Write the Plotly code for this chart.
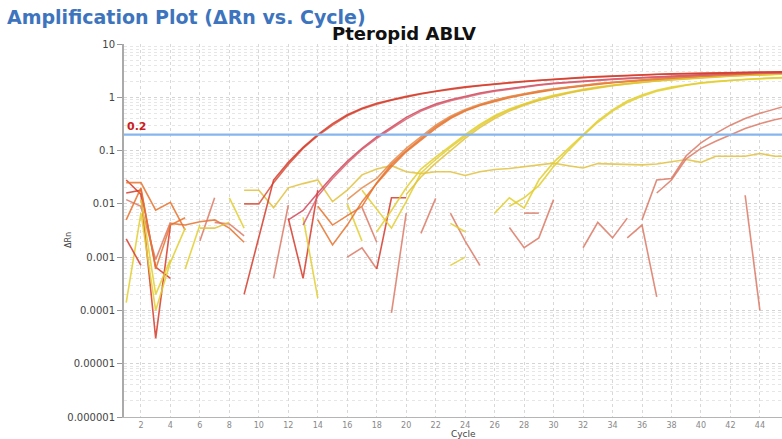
import plotly.graph_objects as go

# ---------------- data ----------------
# main amplification curves (cycle, dRn)
a1_cyc = list(range(9, 47))
a1_val = [0.0002, 0.0024, 0.028, 0.06, 0.115, 0.2, 0.32, 0.47, 0.62, 0.77, 0.91, 1.04, 1.18, 1.32,
          1.45, 1.57, 1.69, 1.8, 1.9, 2.0, 2.1, 2.2, 2.28, 2.36, 2.44, 2.52, 2.58, 2.64, 2.7, 2.75,
          2.8, 2.84, 2.88, 2.92, 2.95, 2.97, 2.99, 3.0]
a2_cyc = list(range(9, 47))
a2_val = [0.01, 0.01, 0.025, 0.055, 0.11, 0.19, 0.3, 0.45, 0.6, 0.74, 0.88, 1.01, 1.15, 1.28,
          1.41, 1.53, 1.65, 1.76, 1.86, 1.96, 2.06, 2.16, 2.25, 2.33, 2.41, 2.49, 2.56, 2.62, 2.68, 2.73,
          2.78, 2.82, 2.86, 2.9, 2.93, 2.95, 2.97, 2.98]
b1_cyc = list(range(12, 47))
b1_val = [0.005, 0.0075, 0.016, 0.033, 0.063, 0.11, 0.18, 0.28, 0.42, 0.58, 0.75, 0.9, 1.05, 1.2,
          1.34, 1.47, 1.6, 1.72, 1.83, 1.93, 2.02, 2.11, 2.2, 2.28, 2.36, 2.44, 2.51, 2.58, 2.65, 2.72,
          2.78, 2.83, 2.88, 2.92, 2.95]
b2_cyc = list(range(13, 47))
b2_val = [0.004, 0.014, 0.03, 0.058, 0.105, 0.17, 0.26, 0.39, 0.55, 0.71, 0.86, 1.01, 1.16,
          1.3, 1.43, 1.56, 1.68, 1.79, 1.89, 1.98, 2.07, 2.16, 2.24, 2.32, 2.4, 2.47, 2.54, 2.61, 2.68,
          2.74, 2.8, 2.85, 2.89, 2.92]
c1_cyc = list(range(14, 47))
c1_val = [0.009, 0.004, 0.006, 0.009, 0.025, 0.055, 0.1, 0.17, 0.28, 0.42, 0.57, 0.72, 0.87, 1.01,
          1.15, 1.29, 1.42, 1.55, 1.67, 1.79, 1.9, 2.01, 2.12, 2.22, 2.32, 2.42, 2.52, 2.61, 2.7, 2.78,
          2.85, 2.91, 2.95]
c2_cyc = list(range(14, 47))
c2_val = [0.005, 0.0017, 0.004, 0.011, 0.024, 0.05, 0.095, 0.16, 0.26, 0.4, 0.55, 0.7, 0.84, 0.98,
          1.12, 1.26, 1.39, 1.52, 1.64, 1.76, 1.87, 1.98, 2.09, 2.19, 2.29, 2.39, 2.49, 2.58, 2.67, 2.75,
          2.82, 2.88, 2.93]
c3_cyc = list(range(16, 47))
c3_val = [0.012, 0.02, 0.03, 0.06, 0.11, 0.18, 0.3, 0.44, 0.59, 0.74, 0.89, 1.03, 1.17, 1.31,
          1.44, 1.57, 1.69, 1.81, 1.92, 2.03, 2.14, 2.24, 2.34, 2.44, 2.54, 2.63, 2.72, 2.8, 2.87, 2.93,
          2.97]
d1_cyc = list(range(18, 47))
d1_val = [0.003, 0.0075, 0.02, 0.045, 0.075, 0.125, 0.2, 0.31, 0.45, 0.6, 0.76, 0.93, 1.09, 1.25,
          1.41, 1.56, 1.7, 1.83, 1.95, 2.06, 2.17, 2.27, 2.36, 2.45, 2.53, 2.61, 2.68, 2.74, 2.79]
d2_cyc = list(range(17, 47))
d2_val = [0.018, 0.008, 0.0035, 0.011, 0.038, 0.068, 0.115, 0.185, 0.29, 0.43, 0.58, 0.74, 0.9,
          1.06, 1.22, 1.38, 1.53, 1.67, 1.8, 1.93, 2.04, 2.15, 2.25, 2.34, 2.43, 2.51, 2.59, 2.66, 2.72, 2.77]
d3_cyc = list(range(20, 47))
d3_val = [0.015, 0.032, 0.058, 0.1, 0.17, 0.27, 0.4, 0.55, 0.71, 0.87, 1.03, 1.19, 1.35, 1.5,
          1.65, 1.78, 1.91, 2.02, 2.12, 2.22, 2.31, 2.4, 2.48, 2.56, 2.63, 2.69, 2.75]
e1_cyc = list(range(26, 47))
e1_val = [0.0067, 0.013, 0.0083, 0.028, 0.06, 0.11, 0.2, 0.36, 0.58, 0.85, 1.1, 1.35, 1.55, 1.72,
          1.88, 2.0, 2.1, 2.18, 2.25, 2.32, 2.38]
e2_cyc = list(range(27, 47))
e2_val = [0.009, 0.013, 0.022, 0.05, 0.1, 0.19, 0.34, 0.55, 0.8, 1.05, 1.3, 1.5, 1.68, 1.84,
          1.96, 2.07, 2.15, 2.22, 2.29, 2.35]
f_cyc = list(range(9, 47))
f_val = [0.018, 0.018, 0.0085, 0.02, 0.024, 0.028, 0.011, 0.018, 0.035, 0.045, 0.052, 0.04, 0.037,
         0.04, 0.04, 0.034, 0.04, 0.044, 0.046, 0.05, 0.055, 0.058, 0.052, 0.047, 0.057, 0.056, 0.055,
         0.054, 0.056, 0.062, 0.068, 0.06, 0.078, 0.078, 0.078, 0.088, 0.078, 0.078]
g1_cyc = list(range(36, 47))
g1_val = [0.005, 0.028, 0.03, 0.08, 0.14, 0.21, 0.3, 0.4, 0.5, 0.6, 0.72]
g2_cyc = list(range(37, 47))
g2_val = [0.016, 0.028, 0.07, 0.11, 0.15, 0.2, 0.26, 0.32, 0.38, 0.43]

# noisy baseline fragments
n01_cyc, n01_val = [1, 2, 3, 4], [0.028, 0.015, 0.00003, 0.004]
n02_cyc, n02_val = [1, 2, 3, 4, 5], [0.025, 0.025, 0.0076, 0.0107, 0.0032]
n03_cyc, n03_val = [1, 2, 3, 4], [0.016, 0.018, 0.00065, 0.0004]
n04_cyc, n04_val = [1, 2, 3, 4, 5], [0.00014, 0.0067, 0.0001, 0.0008, 0.0035]
n05_cyc, n05_val = [1, 2, 3, 4], [0.012, 0.009, 0.0009, 0.0045]
n06_cyc, n06_val = [1, 2], [0.0022, 0.0007]
n07_cyc, n07_val = [1, 2, 3, 4, 5], [0.005, 0.02, 0.0006, 0.004, 0.0055]
n08_cyc, n08_val = [2, 3, 4], [0.012, 0.0002, 0.0009]
n09_cyc, n09_val = [4, 5, 6, 7, 8, 9], [0.0043, 0.004, 0.0046, 0.005, 0.0035, 0.0019]
n10_cyc, n10_val = [5, 6], [0.0006, 0.004]
n11_cyc, n11_val = [6, 7], [0.002, 0.013]
n12_cyc, n12_val = [7, 8, 9], [0.0045, 0.0042, 0.0025]
n13_cyc, n13_val = [8, 9], [0.013, 0.0035]
n14_cyc, n14_val = [6, 7, 8], [0.0035, 0.0035, 0.0045]
n15_cyc, n15_val = [11, 12], [0.0004, 0.0095]
n16_cyc, n16_val = [12, 13, 14], [0.0053, 0.0004, 0.018]
n17_cyc, n17_val = [13, 14], [0.0056, 0.00017]
n18_cyc, n18_val = [16, 17, 18], [0.001, 0.0015, 0.0006]
n19_cyc, n19_val = [18, 19, 20], [0.0006, 0.013, 0.013]
n20_cyc, n20_val = [19, 20], [0.00009, 0.0067]
n21_cyc, n21_val = [17, 18], [0.0086, 0.0019]
n22_cyc, n22_val = [16, 17], [0.01, 0.002]
n23_cyc, n23_val = [21, 22], [0.0028, 0.0127]
n24_cyc, n24_val = [23, 24, 25], [0.0067, 0.002, 0.0007]
n25_cyc, n25_val = [23, 24], [0.0043, 0.003]
n26_cyc, n26_val = [23, 24], [0.0007, 0.001]
n27_cyc, n27_val = [27, 28, 29, 30], [0.0036, 0.0015, 0.0023, 0.012]
n28_cyc, n28_val = [28, 29], [0.0067, 0.0067]
n29_cyc, n29_val = [32, 33, 34, 35], [0.0015, 0.0045, 0.0023, 0.0054]
n30_cyc, n30_val = [35, 36, 37], [0.0023, 0.004, 0.00018]
n31_cyc, n31_val = [43, 44], [0.0145, 0.0001]

x_ticks = list(range(2, 45, 2))
y_ticks = [1e-6, 1e-5, 1e-4, 1e-3, 1e-2, 1e-1, 1, 10]
y_tick_text = ["0.000001", "0.00001", "0.0001", "0.001", "0.01", "0.1", "1", "10"]
threshold = 0.2

# ---------------- colours ----------------
RED = "#d63b2b"
CRIMSON = "#d2475a"
ORANGE = "#e8732c"
YELLOW = "#e3cf2e"
GOLD = "#e2c23c"
SALMON = "#dc7a66"

series = [
    (n01_cyc, n01_val, RED), (n02_cyc, n02_val, ORANGE), (n03_cyc, n03_val, RED),
    (n04_cyc, n04_val, YELLOW), (n05_cyc, n05_val, SALMON), (n06_cyc, n06_val, RED),
    (n07_cyc, n07_val, ORANGE), (n08_cyc, n08_val, YELLOW), (n09_cyc, n09_val, ORANGE),
    (n10_cyc, n10_val, YELLOW), (n11_cyc, n11_val, SALMON), (n12_cyc, n12_val, SALMON),
    (n13_cyc, n13_val, YELLOW), (n14_cyc, n14_val, GOLD), (n15_cyc, n15_val, SALMON),
    (n16_cyc, n16_val, RED), (n17_cyc, n17_val, YELLOW), (n18_cyc, n18_val, SALMON),
    (n19_cyc, n19_val, RED), (n20_cyc, n20_val, SALMON), (n21_cyc, n21_val, SALMON),
    (n22_cyc, n22_val, YELLOW), (n23_cyc, n23_val, SALMON), (n24_cyc, n24_val, SALMON),
    (n25_cyc, n25_val, YELLOW), (n26_cyc, n26_val, YELLOW), (n27_cyc, n27_val, SALMON),
    (n28_cyc, n28_val, SALMON), (n29_cyc, n29_val, SALMON), (n30_cyc, n30_val, SALMON),
    (n31_cyc, n31_val, SALMON),
    (f_cyc, f_val, GOLD),
    (g1_cyc, g1_val, SALMON), (g2_cyc, g2_val, SALMON),
    (e1_cyc, e1_val, YELLOW), (e2_cyc, e2_val, YELLOW),
    (d1_cyc, d1_val, YELLOW), (d2_cyc, d2_val, YELLOW), (d3_cyc, d3_val, GOLD),
    (c1_cyc, c1_val, ORANGE), (c2_cyc, c2_val, ORANGE), (c3_cyc, c3_val, "#e58a4a"),
    (b1_cyc, b1_val, CRIMSON), (b2_cyc, b2_val, "#d86070"),
    (a2_cyc, a2_val, "#d9503a"), (a1_cyc, a1_val, RED),
]

fig = go.Figure()
for cyc, val, col in series:
    fig.add_trace(go.Scatter(x=cyc, y=val, mode="lines",
                             line=dict(color=col, width=1.6), opacity=0.85,
                             showlegend=False, hoverinfo="skip"))

fig.add_shape(type="line", xref="paper", x0=0, x1=1, yref="y", y0=threshold, y1=threshold,
              line=dict(color="#86b6ee", width=2.2), layer="above")

PW, PH = 658, 373  # plot area size in px

fig.update_layout(
    width=782, height=439,
    margin=dict(l=124, r=0, t=44, b=22),
    paper_bgcolor="white", plot_bgcolor="white",
    font=dict(family="DejaVu Sans", color="#444"),
    xaxis=dict(range=[0.85, 45.5], tickmode="array", tickvals=x_ticks,
               tickfont=dict(size=8, color="#888"), ticks="",
               showgrid=True, gridcolor="#d8d8d8", griddash="dot", gridwidth=1,
               showline=True, linecolor="#b5b5b5", linewidth=1, zeroline=False),
    yaxis=dict(type="log", range=[-6, 1], tickmode="array", tickvals=y_ticks,
               ticktext=y_tick_text, tickfont=dict(size=10, color="#444"),
               ticks="outside", ticklen=5, tickcolor="#999",
               showgrid=True, gridcolor="#d4d4d4", griddash="dot",
               minor=dict(showgrid=True, gridcolor="#e6e6e6", griddash="dot", dtick="D1", ticks=""),
               showline=True, linecolor="#aaaaaa", linewidth=2, zeroline=False),
    annotations=[
        dict(text="<b>Amplification Plot (ΔRn vs. Cycle)</b>", xref="paper", yref="paper",
             x=(5 - 124) / PW, y=1 + 27 / PH, xanchor="left", yanchor="middle",
             showarrow=False, font=dict(family="DejaVu Sans", size=19, color="#3d74bd")),
        dict(text="<b>Pteropid ABLV</b>", xref="paper", yref="paper",
             x=(404 - 124) / PW, y=1 + 10 / PH, xanchor="center", yanchor="middle",
             showarrow=False, font=dict(family="DejaVu Sans", size=18, color="#111")),
        dict(text="<b>0.2</b>", xref="paper", yref="paper", x=0.002,
             y=(417 - 135) / PH, xanchor="left", yanchor="bottom", showarrow=False,
             font=dict(family="DejaVu Sans", size=11, color="#cc2020")),
        dict(text="Cycle", xref="paper", yref="paper", x=(463 - 124) / PW, y=-17.5 / PH,
             xanchor="center", yanchor="middle", showarrow=False,
             font=dict(family="DejaVu Sans", size=9, color="#444")),
        dict(text="ΔRn", xref="paper", yref="paper", x=(68 - 124) / PW, y=(417 - 240) / PH,
             xanchor="center", yanchor="middle", showarrow=False, textangle=-90,
             font=dict(family="DejaVu Sans", size=8, color="#444")),
    ],
)

fig.write_html("out.html", config={"displayModeBar": False},
               post_script="document.body.style.margin='0px';document.body.style.padding='0px';")
